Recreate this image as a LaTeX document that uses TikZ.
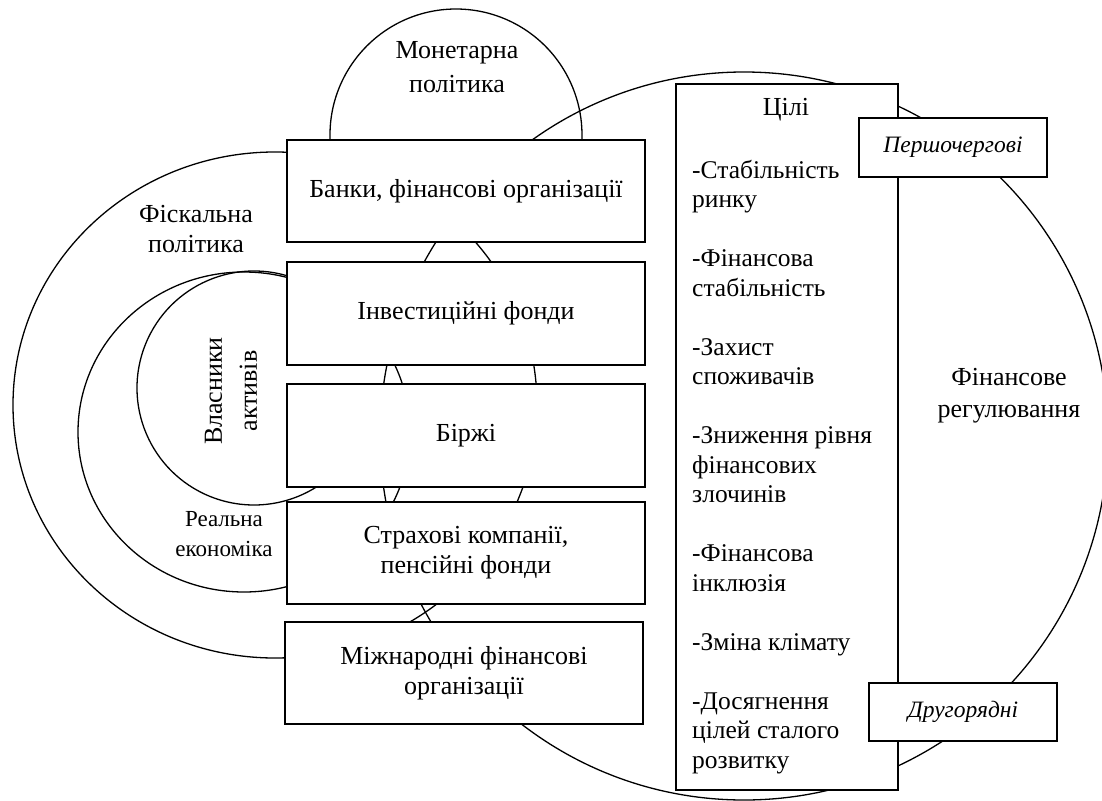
\documentclass[tikz,border=0pt]{standalone}
\usepackage{fontspec}
\setmainfont{Liberation Serif}
\usetikzlibrary{calc}
\newcommand\myfs[2]{\fontsize{#1}{#2}\selectfont}
\tikzset{
  ring/.style={draw=black, line width=1.3pt},
  box/.style={draw=black, fill=white, line width=1.5pt, inner sep=0pt, align=center, font=\myfs{26}{30}},
  tagbox/.style={draw=black, fill=white, line width=1.5pt, inner sep=0pt, font=\myfs{23.5}{28}\itshape},
  lbl/.style={inner sep=0pt, align=center, font=\myfs{26}{30}},
  listtxt/.style={inner sep=0pt, font=\myfs{25.5}{29.5}},
}
\begin{document}
\begin{tikzpicture}[x=1pt,y=-1pt]
\useasboundingbox (0,0) rectangle (1102,800);
\clip (0,0) rectangle (1102,800);
\fill[white] (0,0) rectangle (1102,800);

% centres of the round shapes
\coordinate (cfisc) at (275,405);
\coordinate (creal) at (244,432);
\coordinate (cown) at (254,388);
\coordinate (cmon) at (456,135);
\coordinate (creg) at (744,436);

% round shapes (behind the boxes)
\draw[ring] (cfisc) ellipse [x radius=262, y radius=253];
\draw[ring] (creal) ellipse [x radius=166, y radius=160];
\draw[ring] ($(cown)+(-68:117)$) arc[start angle=-68, end angle=-308, radius=117];
\draw[ring] ($(cmon)+(176:126)$) arc[start angle=176, end angle=364, radius=126];
\draw[ring] (creg) circle [radius=364];

% institution boxes
\node[box, minimum width=358pt, minimum height=102pt] (b1) at (466,191) {Банки, фінансові організації};
\node[box, minimum width=358pt, minimum height=103pt] (b2) at (466,313.5) {Інвестиційні фонди};
\node[box, minimum width=358pt, minimum height=103pt] (b3) at (466,435.5) {Біржі};
\node[box, minimum width=358pt, minimum height=102pt] (b4) at (466,553) {Страхові компанії,\\пенсійні фонди};
\node[box, minimum width=358pt, minimum height=102pt] (b5) at (464,673) {Міжнародні фінансові\\організації};

% goals column
\node[box, minimum width=222pt, minimum height=706pt] (goals) at (787,437) {};
\node[lbl] (gtitle) at (786,110) {Цілі};
\foreach \k/\t in {0/-Стабільність, 1/ринку, 3/-Фінансова, 4/стабільність, 6/-Захист, 7/споживачів, 9/-Зниження рівня, 10/фінансових, 11/злочинів, 13/-Фінансова, 14/інклюзія, 16/-Зміна клімату, 18/-Досягнення, 19/цілей сталого, 20/розвитку}
  \node[listtxt, anchor=base west] (g\k) at (692,{178+29.5*\k}) {\t};

\node[tagbox, minimum width=188pt, minimum height=59pt] (prim) at (953,147.5) {Першочергові};
\node[tagbox, minimum width=188pt, minimum height=58pt] (sec) at (963,712) {Другорядні};

% labels of the round shapes
\node[lbl, font=\myfs{26}{34}] (lmon) at (457,67) {Монетарна\\політика};
\node[lbl] (lfisc) at (196,229) {Фіскальна\\політика};
\node[lbl, font=\myfs{23}{30}] (lreal) at (224,534) {Реальна\\економіка};
\node[lbl, font=\myfs{26}{35}, rotate=90] (lown) at (231,391) {Власники\\активів};
\node[lbl, font=\myfs{26}{32}] (lreg) at (1009,396) {Фінансове\\регулювання};
\end{tikzpicture}
\end{document}
